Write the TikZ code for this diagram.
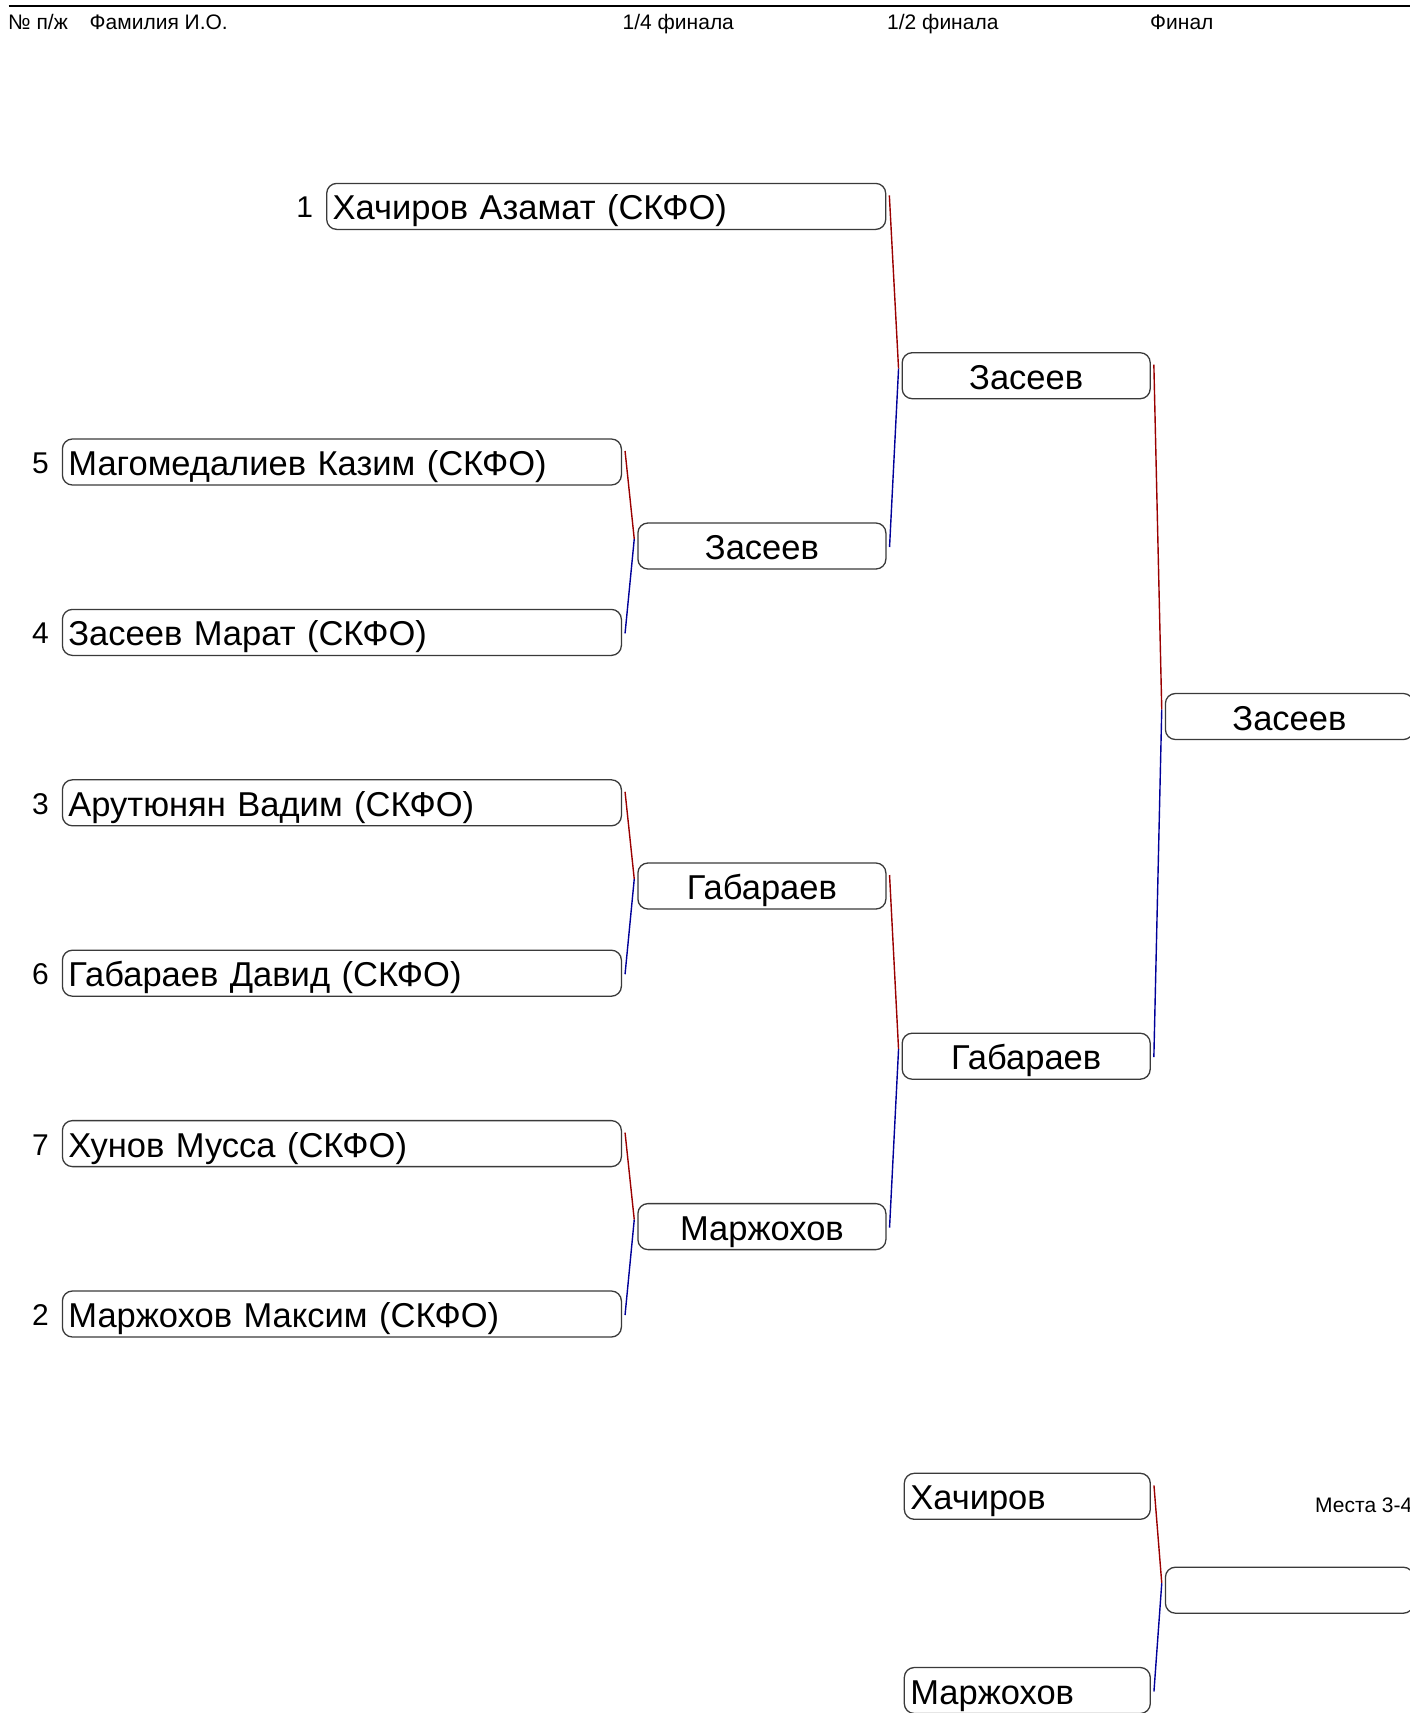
\documentclass[tikz,border=0pt]{standalone}
\usepackage{fontspec}
\setmainfont{Liberation Sans}
\definecolor{boxgray}{HTML}{3A3A3A}
\definecolor{lred}{HTML}{9A0000}
\definecolor{lblue}{HTML}{000099}
\tikzset{
  pbox/.style={draw=boxgray, line width=1.3pt, rounded corners=10pt, minimum height=46pt,
    inner ysep=0pt, inner xsep=6pt, font=\fontsize{34.5}{40}\selectfont, text height=27pt, text depth=0pt},
  namebox/.style={pbox, text width=547pt, align=left},
  winbox/.style={pbox, text width=236pt, align=center},
  bronbox/.style={pbox, text width=234pt, align=left},
  numtxt/.style={font=\fontsize{30}{36}\selectfont, inner sep=0pt, text height=23pt, text depth=0pt},
  headtxt/.style={font=\fontsize{21}{25}\selectfont, inner sep=0pt, anchor=base west},
  redl/.style={draw=lred, line width=1.4pt},
  bluel/.style={draw=lblue, line width=1.4pt}
}
\newcommand{\bracketpair}[3]{%
  \coordinate (j#3) at ([xshift=-3pt,yshift=7pt]#3.west);
  \draw[redl] ([xshift=3pt,yshift=11pt]#1.east) -- (j#3);
  \draw[bluel] (j#3) -- ([xshift=3pt,yshift=-1pt]#2.east);
}
\begin{document}
\begin{tikzpicture}[x=1pt,y=-1pt]
\useasboundingbox (0,0) rectangle (1410,1713);
\clip (0,0) rectangle (1410,1713);
% header
\coordinate (hl) at (8.7,5.5);
\coordinate (hr) at (1410,5.5);
\draw[line width=2pt] (hl) -- (hr);
\node[headtxt] (h1) at (8,29.5) {№ п/ж};
\node[headtxt] (h2) at (89.5,29.5) {Фамилия И.О.};
\node[headtxt] (h3) at (622.5,29.5) {1/4 финала};
\node[headtxt] (h4) at (887,29.5) {1/2 финала};
\node[headtxt] (h5) at (1150,29.5) {Финал};
% first round
\node[namebox] (p1) at (606.2,206.4) {Хачиров Азамат (СКФО)};
\node[namebox] (p5) at (341.9,462.0) {Магомедалиев Казим (СКФО)};
\node[namebox] (p4) at (341.9,632.4) {Засеев Марат (СКФО)};
\node[namebox] (p3) at (341.9,802.8) {Арутюнян Вадим (СКФО)};
\node[namebox] (p6) at (341.9,973.2) {Габараев Давид (СКФО)};
\node[namebox] (p7) at (341.9,1143.6) {Хунов Мусса (СКФО)};
\node[namebox] (p2) at (341.9,1314.0) {Маржохов Максим (СКФО)};
\node[numtxt] (n1) at (304.7,206.4) {1};
\node[numtxt] (n5) at (40.4,462.0) {5};
\node[numtxt] (n4) at (40.4,632.4) {4};
\node[numtxt] (n3) at (40.4,802.8) {3};
\node[numtxt] (n6) at (40.4,973.2) {6};
\node[numtxt] (n7) at (40.4,1143.6) {7};
\node[numtxt] (n2) at (40.4,1314.0) {2};
% quarter winners
\node[winbox] (q1) at (761.9,546.0) {Засеев};
\node[winbox] (q2) at (761.9,886.0) {Габараев};
\node[winbox] (q3) at (761.9,1226.6) {Маржохов};
% semi winners
\node[winbox] (s1) at (1026.2,375.7) {Засеев};
\node[winbox] (s2) at (1026.2,1056.2) {Габараев};
% final
\node[winbox] (f1) at (1289.4,716.5) {Засеев};
% bronze
\node[bronbox] (b1) at (1027.3,1496.3) {Хачиров};
\node[bronbox] (b2) at (1027.3,1690.5) {Маржохов};
\node[winbox] (b3) at (1289.4,1590.2) {};
\node[headtxt, anchor=west] (m34) at (1315,1505) {Места 3-4};
% connectors
\bracketpair{p5}{p4}{q1}
\bracketpair{p3}{p6}{q2}
\bracketpair{p7}{p2}{q3}
\bracketpair{p1}{q1}{s1}
\bracketpair{q2}{q3}{s2}
\bracketpair{s1}{s2}{f1}
\bracketpair{b1}{b2}{b3}
\end{tikzpicture}
\end{document}
